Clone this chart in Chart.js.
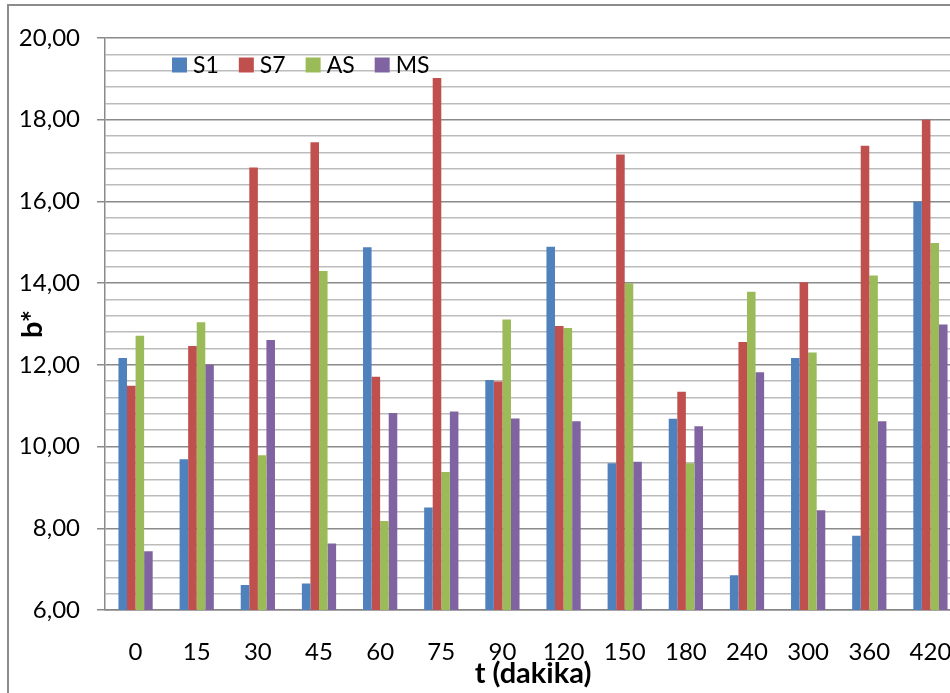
<!DOCTYPE html>
<html><head><meta charset="utf-8">
<script src="https://cdn.jsdelivr.net/npm/chart.js@4/dist/chart.umd.min.js"></script>
<style>
html,body{margin:0;padding:0;overflow:hidden;background:#fff;width:950px;height:693px;}
#frame{position:absolute;left:7px;top:4px;width:1000px;height:750px;border:2px solid #8c8c8c;box-sizing:border-box;}
#wrap{position:absolute;left:0;top:0;width:975px;height:693px;}
</style></head>
<body>
<div id="frame"></div>
<div id="wrap"><canvas id="c" width="975" height="693"></canvas></div>
<script>
const categories = ['0','15','30','45','60','75','90','120','150','180','240','300','360','420'];
const seriesS1 = [12.17, 9.69, 6.61, 6.65, 14.88, 8.51, 11.63, 14.89, 9.59, 10.68, 6.85, 12.17, 7.82, 15.99];
const seriesS7 = [11.49, 12.46, 16.83, 17.45, 11.71, 19.02, 11.59, 12.95, 17.15, 11.34, 12.56, 14.02, 17.36, 18.00];
const seriesAS = [12.71, 13.04, 9.79, 14.30, 8.18, 9.38, 13.11, 12.90, 14.00, 9.59, 13.79, 12.30, 14.19, 14.98];
const seriesMS = [7.44, 12.00, 12.61, 7.63, 10.82, 10.86, 10.69, 10.62, 9.63, 10.50, 11.82, 8.44, 10.62, 12.99];
const seriesNames = ['S1', 'S7', 'AS', 'MS'];
const seriesColors = ['#4F81BD', '#C0504D', '#9BBB59', '#8064A2'];
const yMajorTicks = [6, 8, 10, 12, 14, 16, 18, 20];
const yTickLabels = ['6,00', '8,00', '10,00', '12,00', '14,00', '16,00', '18,00', '20,00'];
const xTitle = 't (dakika)';
const yTitle = 'b*';

const FONT = 'Lato, "Open Sans", sans-serif';

function majorIndex(v) {
  for (let i = 0; i < yMajorTicks.length; i++) {
    if (Math.abs(v - yMajorTicks[i]) < 1e-6) return i;
  }
  return -1;
}

const legendPlugin = {
  id: 'innerLegend',
  afterDatasetsDraw(chart) {
    const ctx = chart.ctx;
    ctx.save();
    ctx.font = '23px ' + FONT;
    ctx.textBaseline = 'middle';
    ctx.textAlign = 'left';
    let x = 172;
    const y = 65;
    chart.data.datasets.forEach(ds => {
      ctx.fillStyle = ds.backgroundColor;
      ctx.fillRect(x, y - 7.5, 15, 15);
      ctx.fillStyle = '#000';
      ctx.fillText(ds.label, x + 21, y + 1);
      x += 21 + ctx.measureText(ds.label).width + 20;
    });
    ctx.restore();
  }
};

const datasets = [seriesS1, seriesS7, seriesAS, seriesMS].map((d, i) => ({
  label: seriesNames[i],
  data: d,
  backgroundColor: seriesColors[i],
  borderWidth: 0,
  categoryPercentage: 0.56,
  barPercentage: 1.0
}));

new Chart(document.getElementById('c'), {
  type: 'bar',
  data: { labels: categories, datasets },
  options: {
    responsive: false,
    devicePixelRatio: 1,
    animation: false,
    layout: { padding: { left: 0, top: 38, right: 14, bottom: 0 } },
    plugins: { legend: { display: false }, tooltip: { enabled: false } },
    scales: {
      x: {
        afterFit(s) { s.height = 693 - 610; },
        grid: { display: false },
        border: { display: true, color: '#868686', width: 1.5 },
        ticks: { color: '#000', font: { family: FONT, size: 24 }, padding: 20, maxRotation: 0, autoSkip: false },
        title: { display: true, text: xTitle, color: '#000', font: { family: FONT, size: 29, weight: 'bold' }, padding: { top: 0, bottom: 2 } }
      },
      y: {
        min: 6, max: 20,
        afterFit(s) { s.width = 105; },
        afterBuildTicks(s) {
          const t = [];
          for (let i = 0; i <= 35; i++) t.push({ value: Math.round((6 + i * 0.4) * 100) / 100 });
          s.ticks = t;
        },
        grid: {
          color: c => majorIndex(c.tick.value) >= 0 ? '#8a8a8a' : '#bcbcbc',
          lineWidth: c => 1.5,
          tickColor: c => majorIndex(c.tick.value) >= 0 ? '#8a8a8a' : 'rgba(0,0,0,0)',
          tickLength: 8
        },
        border: { display: true, color: '#8a8a8a', width: 1.5 },
        ticks: {
          color: '#000',
          font: { family: FONT, size: 24 },
          padding: 17,
          autoSkip: false,
          callback: v => { const i = majorIndex(v); return i >= 0 ? yTickLabels[i] : ''; }
        },
        title: { display: true, text: yTitle, color: '#000', font: { family: FONT, size: 29, weight: 'bold' }, padding: { top: 15, bottom: 0 } }
      }
    }
  },
  plugins: [legendPlugin]
});
</script>
</body></html>
